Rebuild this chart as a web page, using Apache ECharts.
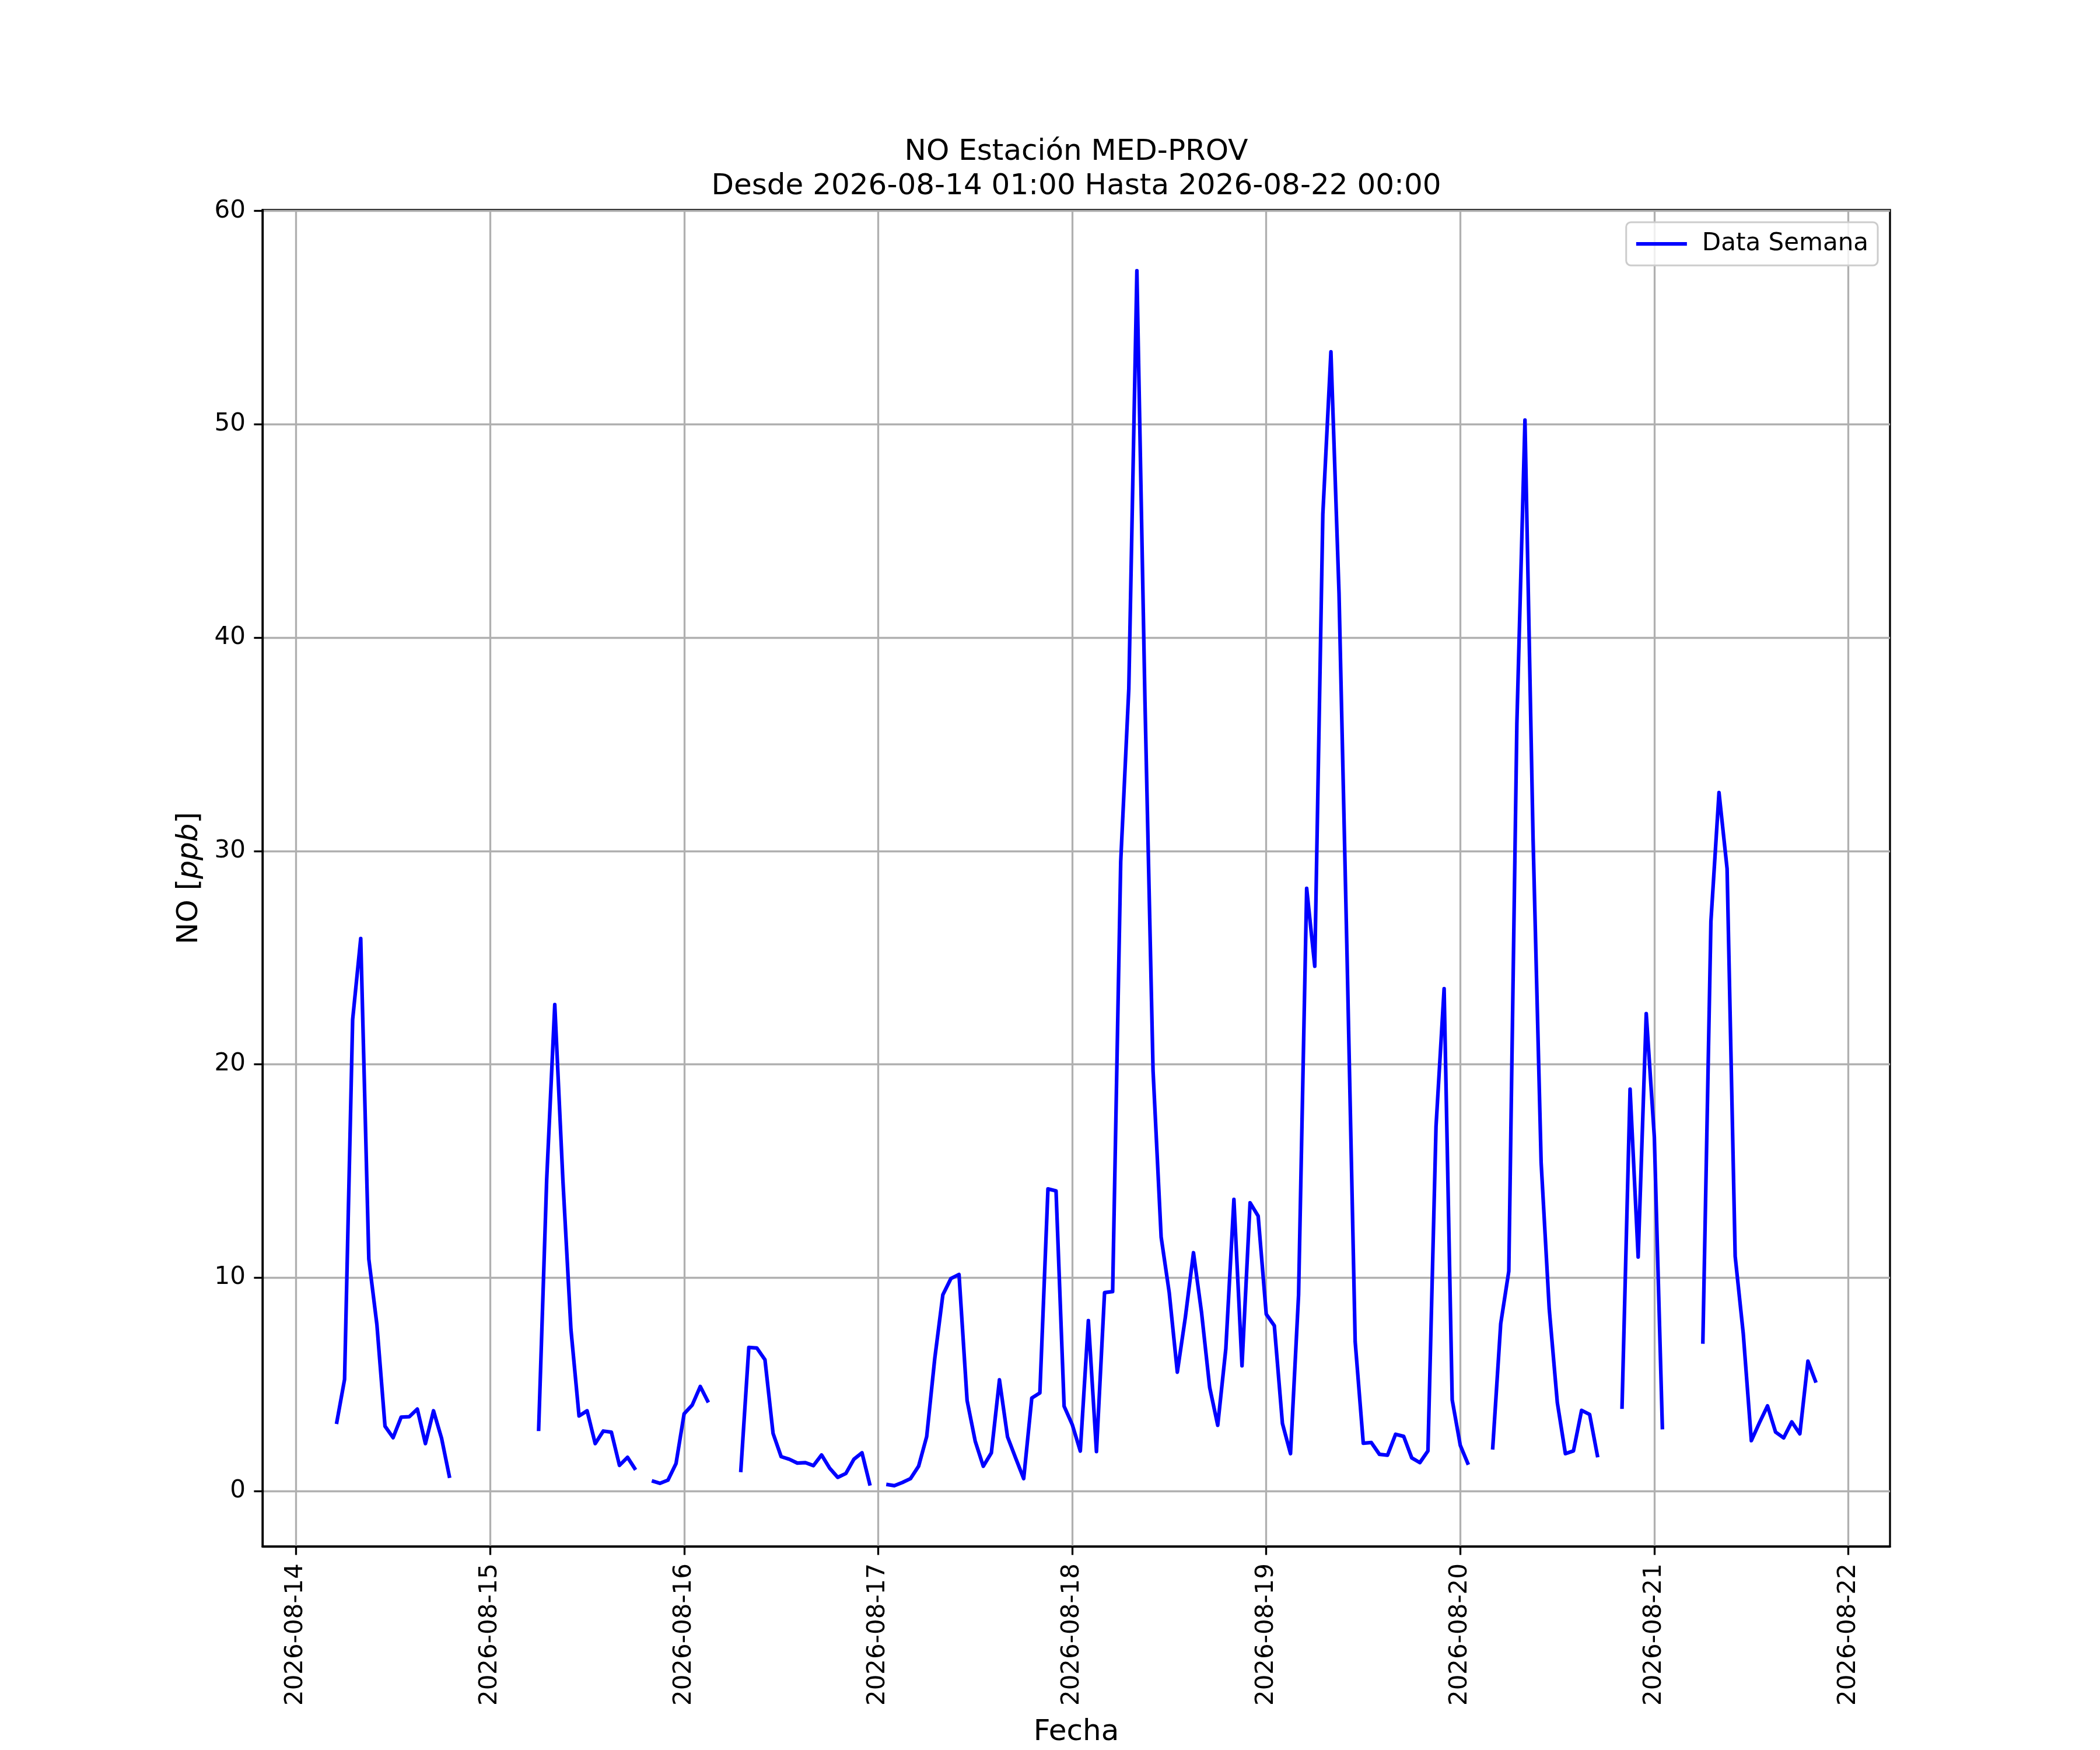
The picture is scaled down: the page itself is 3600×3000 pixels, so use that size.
<!DOCTYPE html>
<html>
<head>
<meta charset="utf-8">
<script src="https://cdn.jsdelivr.net/npm/echarts@6/dist/echarts.min.js"></script>
<style>
  html, body { margin: 0; padding: 0; background: #fff; }
  #chart { width: 3600px; height: 3000px; }
</style>
</head>
<body>
<div id="chart"></div>
<script>
// NO horario (ppb), estacion MED-PROV, una lista por dia (horas 0..23), null = sin dato
const day14 = [null, null, null, null, null, 3.14, 5.23, 22.1, 25.9, 10.87, 7.8, 3.04, 2.5, 3.46, 3.48, 3.84, 2.22, 3.76, 2.47, 0.61, null, null, null, null];
const day15 = [null, null, null, null, null, null, 2.81, 14.6, 22.8, 14.6, 7.57, 3.52, 3.76, 2.22, 2.81, 2.76, 1.2, 1.58, 0.99, null, 0.48, 0.36, 0.51, 1.29];
const day16 = [3.62, 4.03, 4.9, 4.15, null, null, null, 0.88, 6.73, 6.7, 6.15, 2.7, 1.61, 1.49, 1.31, 1.33, 1.19, 1.69, 1.07, 0.64, 0.82, 1.49, 1.79, 0.25];
const day17 = [null, 0.31, 0.25, 0.4, 0.58, 1.16, 2.55, 6.21, 9.2, 9.96, 10.15, 4.24, 2.34, 1.16, 1.79, 5.21, 2.54, 1.55, 0.58, 4.36, 4.6, 14.16, 14.07, 3.97];
const day18 = [3.12, 1.87, 7.99, 1.85, 9.3, 9.35, 29.5, 37.6, 57.2, 37.0, 19.7, 11.9, 9.3, 5.57, 8.16, 11.17, 8.36, 4.86, 3.08, 6.67, 13.67, 5.87, 13.51, 12.89];
const day19 = [8.29, 7.75, 3.17, 1.75, 9.2, 28.25, 24.6, 45.8, 53.4, 42.1, 25.0, 7.0, 2.24, 2.27, 1.72, 1.68, 2.66, 2.56, 1.55, 1.33, 1.88, 17.1, 23.55, 4.27];
const day20 = [2.14, 1.23, null, null, 1.94, 7.84, 10.3, 36.0, 50.2, 30.6, 15.4, 8.55, 4.15, 1.75, 1.88, 3.78, 3.59, 1.58, null, null, 3.85, 18.84, 10.97, 22.38];
const day21 = [16.6, 2.89, null, null, null, null, 6.9, 26.7, 32.74, 29.17, 11.0, 7.38, 2.36, 3.2, 3.99, 2.76, 2.49, 3.24, 2.68, 6.09, 5.08, null, null, null];

const days = [day14, day15, day16, day17, day18, day19, day20, day21];
const dayTicks = [0, 1, 2, 3, 4, 5, 6, 7, 8];      // dias desde 2026-08-14
const yTicks = [0, 10, 20, 30, 40, 50, 60];

// puntos [dias desde 2026-08-14, valor]
let serie = [];
days.forEach((d, i) => {
  d.forEach((v, h) => {
    serie.push([i + h / 24, v]);
  });
});

// margenes tipo matplotlib (5%)
const validos = serie.filter(p => p[1] !== null);
const xs = validos.map(p => p[0]), ys = validos.map(p => p[1]);
const xMin0 = Math.min(...xs), xMax0 = Math.max(...xs);
const yMin0 = Math.min(...ys), yMax0 = Math.max(...ys);
const xPad = (xMax0 - xMin0) * 0.05, yPad = (yMax0 - yMin0) * 0.05;

function fecha(v) {
  const d = new Date(Date.UTC(2026, 7, 14 + Math.round(v)));
  return d.toISOString().slice(0, 10);
}

const chart = echarts.init(document.getElementById('chart'), null, { renderer: 'canvas' });
const fuente = 'DejaVu Sans';

chart.setOption({
  animation: false,
  backgroundColor: '#ffffff',
  textStyle: { fontFamily: fuente },
  title: {
    text: 'NO Estación MED-PROV\nDesde 2026-08-14 01:00 Hasta 2026-08-22 00:00',
    left: 1845,
    textAlign: 'center',
    top: 231,
    padding: 0,
    textStyle: { fontFamily: fuente, fontSize: 50, fontWeight: 'normal', color: '#000', lineHeight: 59.4 }
  },
  legend: {
    data: ['Data Semana'],
    right: 381,
    top: 381,
    padding: [16, 16, 16, 14],
    itemWidth: 87,
    itemHeight: 42,
    backgroundColor: 'rgba(255,255,255,0.8)',
    borderColor: '#cccccc',
    borderWidth: 3,
    borderRadius: 8,
    textStyle: { fontFamily: fuente, fontSize: 42, color: '#000', padding: [0, 0, 0, 21] },
    itemStyle: { color: 'transparent', borderColor: 'transparent', borderWidth: 0 },
    lineStyle: { color: '#0000ff', width: 6.25 }
  },
  grid: {
    left: 450,
    right: 360,
    top: 360,
    bottom: 330,
    show: true,
    borderColor: '#000',
    borderWidth: 3.3,
    backgroundColor: 'transparent'
  },
  xAxis: {
    type: 'value',
    min: xMin0 - xPad,
    max: xMax0 + xPad,
    minInterval: 1,
    maxInterval: 1,
    name: 'Fecha',
    nameLocation: 'middle',
    nameGap: 294,
    nameTextStyle: { fontFamily: fuente, fontSize: 50, color: '#000' },
    axisLine: { show: true, onZero: false, lineStyle: { color: '#000', width: 3.3 } },
    axisTick: { show: true, inside: false, length: 14.6, lineStyle: { color: '#000', width: 3.3 }, customValues: dayTicks },
    axisLabel: {
      rotate: 90,
      margin: 29,
      fontFamily: fuente,
      fontSize: 42,
      color: '#000',
      customValues: dayTicks,
      formatter: v => fecha(v)
    },
    splitLine: { show: true, lineStyle: { color: '#b0b0b0', width: 3.3 } }
  },
  yAxis: {
    type: 'value',
    min: yMin0 - yPad,
    max: yMax0 + yPad,
    minInterval: 10,
    maxInterval: 10,
    name: '{n|NO [}{i|ppb}{n|]}',
    nameLocation: 'middle',
    nameGap: 100,
    nameTextStyle: {
      rich: {
        n: { fontFamily: fuente, fontSize: 50, color: '#000' },
        i: { fontFamily: fuente, fontSize: 50, color: '#000', fontStyle: 'italic' }
      }
    },
    axisLine: { show: true, onZero: false, lineStyle: { color: '#000', width: 3.3 } },
    axisTick: { show: true, inside: false, length: 14.6, lineStyle: { color: '#000', width: 3.3 }, customValues: yTicks },
    axisLabel: {
      margin: 29,
      fontFamily: fuente,
      fontSize: 42,
      color: '#000',
      customValues: yTicks
    },
    splitLine: { show: true, lineStyle: { color: '#b0b0b0', width: 3.3 } }
  },
  series: [{
    name: 'Data Semana',
    type: 'line',
    data: serie,
    connectNulls: false,
    showSymbol: false,
    symbol: 'none',
    lineStyle: { color: '#0000ff', width: 6.25, cap: 'butt', join: 'round' },
    itemStyle: { color: '#0000ff' },
    z: 5
  }]
});
</script>
</body>
</html>
